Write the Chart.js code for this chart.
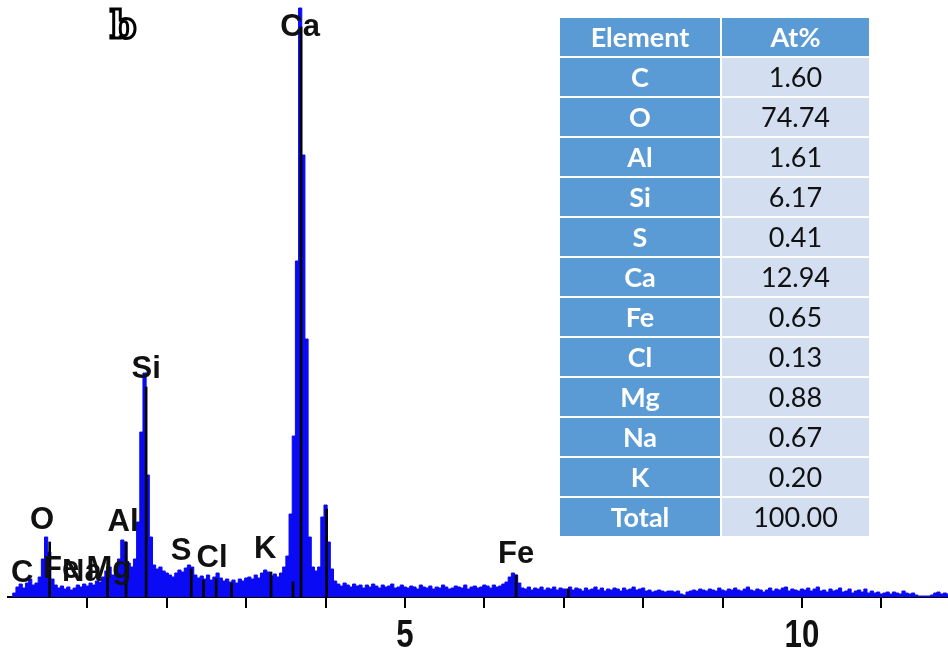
<!DOCTYPE html>
<html>
<head>
<meta charset="utf-8">
<script src="https://cdn.jsdelivr.net/npm/chart.js@4.4.1/dist/chart.umd.min.js"></script>
<style>
  html, body { margin: 0; padding: 0; background: #fff; }
  #wrap { position: relative; width: 948px; height: 657px; overflow: hidden; }
  #spectrum { position: absolute; left: 0; top: 0; }
  #panel {
    position: absolute; left: 110px; top: 2px;
    font: bold 38px "DejaVu Serif", serif;
    color: #fff; -webkit-text-stroke: 3px #000;
  }
  #quant {
    position: absolute; left: 558px; top: 16px;
    border-collapse: collapse;
    font-family: Lato, "Open Sans", sans-serif;
  }
  #quant td, #quant th {
    height: 38px; padding: 0; text-align: center;
    border: 2px solid #fff; line-height: 38px;
  }
  #quant th { background: #5b9bd5; color: #fff; font-weight: bold; font-size: 27px; }
  #quant td.el { width: 160px; background: #5b9bd5; color: #fff; font-weight: bold; font-size: 27px; }
  #quant td.val { width: 147px; background: #d3dff0; color: #111; font-size: 27px; }
</style>
</head>
<body>
<div id="wrap">
  <canvas id="spectrum" width="948" height="657"></canvas>
  <div id="panel">b</div>
  <table id="quant"></table>
</div>
<script>
// channel width of the spectrum (keV); channel i sits at i * binWidth
const binWidth = 0.04;

// counts per channel, one row per keV
const counts = [
  0, 4, 10, 13, 9, 14, 18, 12, 14, 20, 38, 60, 45, 18, 12, 9, 11, 8, 10, 7, 9, 12, 10, 13, 11,
  14, 12, 16, 15, 20, 26, 30, 22, 26, 38, 57, 55, 34, 30, 38, 75, 165, 224, 122, 60, 32, 28, 30, 26, 24,
  22, 20, 24, 27, 25, 29, 32, 30, 22, 19, 21, 18, 22, 17, 20, 24, 19, 16, 18, 15, 17, 14, 18, 16, 19,
  20, 18, 22, 19, 24, 27, 25, 21, 23, 20, 24, 30, 41, 83, 161, 336, 589, 442, 258, 60, 30, 26, 30, 80, 92,
  55, 28, 16, 13, 11, 14, 12, 10, 13, 11, 12, 9, 12, 10, 13, 11, 9, 12, 10, 11, 13, 9, 10, 12, 10,
  9, 11, 10, 8, 12, 10, 9, 11, 8, 10, 9, 12, 10, 8, 9, 11, 10, 9, 12, 8, 10, 11, 9, 10, 12,
  11, 9, 12, 10, 11, 13, 15, 20, 24, 22, 14, 9, 8, 10, 7, 9, 8, 10, 7, 9, 8, 10, 7, 9, 8,
  8, 10, 7, 9, 8, 6, 9, 7, 8, 10, 7, 9, 6, 8, 7, 9, 8, 6, 9, 7, 8, 10, 7, 8, 9,
  6, 7, 5, 6, 7, 6, 5, 6, 6, 5, 6, 3, 2, 5, 6, 7, 6, 8, 7, 6, 8, 7, 6, 9, 7,
  6, 8, 7, 9, 7, 6, 8, 10, 7, 6, 8, 7, 5, 7, 9, 6, 8, 7, 9, 10, 6, 8, 7, 6, 8,
  7, 9, 6, 8, 10, 6, 7, 5, 8, 6, 7, 9, 5, 6, 8, 4, 6, 7, 5, 8, 4, 6, 4, 5, 3,
  4, 5, 3, 5, 4, 3, 6, 4, 3, 4, 2, 1, 1, 1, 1, 2, 4, 5, 3, 4, 3
];

// KLM marker lines
const markerKeV = [0.525, 1.254, 1.487, 1.740, 2.308, 2.464, 2.622, 2.816, 3.313, 3.590, 3.691, 4.013, 6.400, 7.058];
const markerCounts = [55, 30, 55, 210, 28, 17, 18, 14, 25, 15, 570, 88, 22, 8];

// peak labels: name, energy and height where the label is centred
const peakNames = ['C', 'Fe', 'Na', 'Mg', 'O', 'Al', 'Si', 'S', 'Cl', 'K', 'Ca', 'Fe'];
const peakKeV = [0.18, 0.67, 0.93, 1.27, 0.43, 1.45, 1.74, 2.18, 2.57, 3.24, 3.68, 6.40];
const peakY = [24, 28, 25, 28, 77, 75, 228, 46, 39, 48, 570, 43];

// quantification table
const tableElements = ['C', 'O', 'Al', 'Si', 'S', 'Ca', 'Fe', 'Cl', 'Mg', 'Na', 'K', 'Total'];
const tableAtPct = ['1.60', '74.74', '1.61', '6.17', '0.41', '12.94', '0.65', '0.13', '0.88', '0.67', '0.20', '100.00'];

// energy axis: numbered ticks
const labeledTicks = [5, 10];

// build the table
const table = document.getElementById('quant');
let html = '<tr><th>Element</th><th>At%</th></tr>';
tableElements.forEach((el, i) => {
  html += '<tr><td class="el">' + el + '</td><td class="val">' + tableAtPct[i] + '</td></tr>';
});
table.innerHTML = html;

const spectrumData = counts.map((c, i) => ({ x: +((i + 1) * binWidth).toFixed(2), y: c }));
const markerData = markerKeV.map((e, i) => ({ x: e, y: markerCounts[i] }));

// element names over the peaks, plus the condensed keV numbers under the axis
const annotatePlugin = {
  id: 'annotate',
  afterDatasetsDraw(chart) {
    const { ctx, scales, chartArea } = chart;
    ctx.save();
    ctx.font = 'bold 31px "Liberation Sans", Arial, sans-serif';
    ctx.fillStyle = '#111';
    ctx.textAlign = 'center';
    ctx.textBaseline = 'middle';
    peakNames.forEach((name, i) => {
      ctx.fillText(name, scales.x.getPixelForValue(peakKeV[i]), scales.y.getPixelForValue(peakY[i]));
    });

    ctx.font = 'bold 39px "Liberation Sans", Arial, sans-serif';
    labeledTicks.forEach((v) => {
      ctx.save();
      ctx.translate(scales.x.getPixelForValue(v), chartArea.bottom + 39);
      ctx.scale(0.8, 1);
      ctx.fillText(String(v), 0, 0);
      ctx.restore();
    });
    ctx.restore();
  }
};

new Chart(document.getElementById('spectrum'), {
  type: 'line',
  data: {
    datasets: [
      {
        type: 'bar',
        label: 'markers',
        data: markerData,
        backgroundColor: '#000',
        barThickness: 2,
        grouped: false,
        order: 0
      },
      {
        label: 'spectrum',
        data: spectrumData,
        stepped: 'middle',
        fill: 'origin',
        backgroundColor: '#0a0af5',
        borderColor: '#0a0af5',
        borderWidth: 1,
        pointRadius: 0,
        order: 1
      }
    ]
  },
  options: {
    responsive: false,
    animation: false,
    layout: { padding: { top: 5, left: 8, right: 0, bottom: 49 } },
    plugins: { legend: { display: false }, tooltip: { enabled: false } },
    scales: {
      x: {
        type: 'linear',
        min: 0,
        max: 11.84,
        offset: false,
        border: { display: true, color: '#000', width: 2 },
        grid: {
          offset: false,
          drawOnChartArea: false,
          drawTicks: true,
          tickLength: 11,
          lineWidth: 2,
          color: (c) => (c.tick && c.tick.value === 0 ? 'rgba(0,0,0,0)' : '#000')
        },
        ticks: {
          display: false,
          stepSize: 1,
          includeBounds: false,
          autoSkip: false
        }
      },
      y: { display: false, min: 0, max: 592 }
    }
  },
  plugins: [annotatePlugin]
});
</script>
</body>
</html>
